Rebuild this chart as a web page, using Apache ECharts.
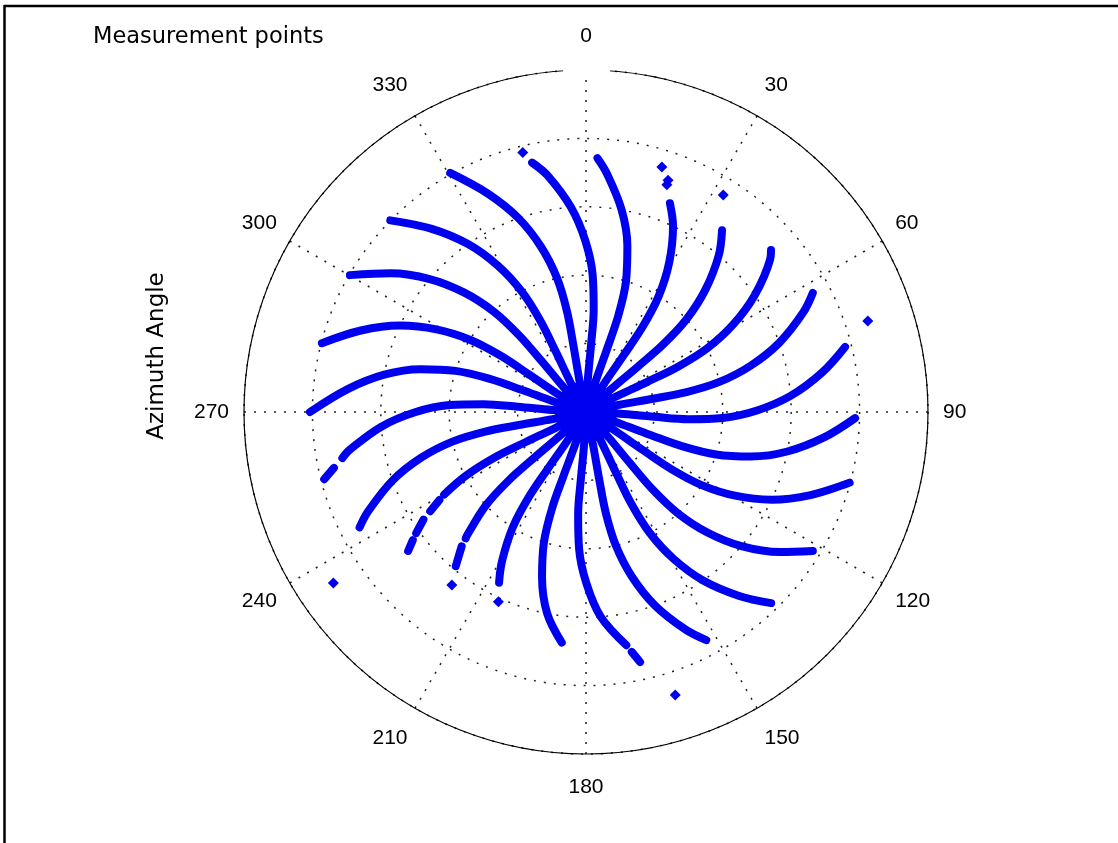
<!DOCTYPE html>
<html>
<head>
<meta charset="utf-8">
<script src="https://cdn.jsdelivr.net/npm/echarts@6/dist/echarts.min.js"></script>
<style>
html,body{margin:0;padding:0;background:#fff;}
#chart{width:1118px;height:843px;}
</style>
</head>
<body>
<div id="chart"></div>
<script>
// ---- data: each arm is a list of segments, each segment a list of [radius, azimuth(deg)] ----
const arm01 = [[[0.03,16.5],[0.1,17.5],[0.2,18.5],[0.3,18.5],[0.4,17],[0.5,14],[0.6,10],[0.7,5],[0.743,2.6]]];
const arm02 = [[[0.03,31.6],[0.1,32.6],[0.2,33.6],[0.3,33.6],[0.4,32.1],[0.5,29.1],[0.6,25.1],[0.658,21.9]]];
const arm03 = [[[0.03,46.8],[0.1,47.8],[0.2,48.8],[0.3,48.8],[0.4,47.3],[0.5,44.3],[0.6,40.3],[0.664,36.8]]];
const arm04 = [[[0.03,61.8],[0.1,62.8],[0.2,63.8],[0.3,63.8],[0.4,62.3],[0.5,59.3],[0.6,55.3],[0.7,50.3],[0.719,48.8]]];
const arm05 = [[[0.03,76.8],[0.1,77.8],[0.2,78.8],[0.3,78.8],[0.4,77.3],[0.5,74.3],[0.6,70.3],[0.7,65.3],[0.749,62.3]]];
const arm06 = [[[0.03,92],[0.1,93],[0.2,94],[0.3,94],[0.4,92.5],[0.5,89.5],[0.6,85.5],[0.7,80.5],[0.781,75.9]]];
const arm07 = [[[0.03,107.6],[0.1,108.6],[0.2,109.6],[0.3,109.6],[0.4,108.1],[0.5,105.1],[0.6,101.1],[0.7,96.1],[0.787,91.3]]];
const arm08 = [[[0.03,121.8],[0.1,122.8],[0.2,123.8],[0.3,123.8],[0.4,122.3],[0.5,119.3],[0.6,115.3],[0.7,110.3],[0.798,105]]];
const arm09 = [[[0.03,137.3],[0.1,138.3],[0.2,139.3],[0.3,139.3],[0.4,137.8],[0.5,134.8],[0.6,130.8],[0.7,125.8],[0.778,121.5]]];
const arm10 = [[[0.03,151.7],[0.1,152.7],[0.2,153.7],[0.3,153.7],[0.4,152.2],[0.5,149.2],[0.6,145.2],[0.7,140.2],[0.778,135.9]]];
const arm11 = [[[0.03,166.9],[0.1,167.9],[0.2,168.9],[0.3,168.9],[0.4,167.4],[0.5,164.4],[0.6,160.4],[0.7,155.4],[0.754,152.2]]];
const arm12 = [[[0.03,182.4],[0.1,183.4],[0.2,184.4],[0.3,184.4],[0.4,182.9],[0.5,179.9],[0.6,175.9],[0.692,170.2]],
               [[0.714,169.2],[0.748,167.8]]];
const arm13 = [[[0.03,197.4],[0.1,198.4],[0.2,199.4],[0.3,199.4],[0.4,197.9],[0.5,194.9],[0.6,190.9],[0.678,186]]];
const arm14 = [[[0.03,211.9],[0.1,212.9],[0.2,213.9],[0.3,213.9],[0.4,212.4],[0.5,209.4],[0.56,207]]];
const arm15 = [[[0.03,226.5],[0.1,227.5],[0.2,228.5],[0.3,228.5],[0.4,227],[0.5,224],[0.51,223.6]],
               [[0.535,222.8],[0.59,220.2]]];
const arm16 = [[[0.03,241.5],[0.1,242.5],[0.2,243.5],[0.3,243.5],[0.4,242],[0.48,239.8]],
               [[0.5,239],[0.54,237.5]],
               [[0.57,236.5],[0.61,234.5]],
               [[0.63,233.5],[0.66,232]]];
const arm17 = [[[0.03,257],[0.1,258],[0.2,259],[0.3,259],[0.4,257.5],[0.5,254.5],[0.6,250.5],[0.7,245.5],[0.743,243]]];
const arm18 = [[[0.03,272.4],[0.1,273.4],[0.2,274.4],[0.3,274.4],[0.4,272.9],[0.5,269.9],[0.6,265.9],[0.7,260.9],[0.725,259.3]],
               [[0.755,257.5],[0.79,255.6]]];
const arm19 = [[[0.03,287],[0.1,288],[0.2,289],[0.3,289],[0.4,287.5],[0.5,284.5],[0.6,280.5],[0.7,275.5],[0.807,270]]];
const arm20 = [[[0.03,301.4],[0.1,302.4],[0.2,303.4],[0.3,303.4],[0.4,301.9],[0.5,298.9],[0.6,294.9],[0.7,289.9],[0.798,284.6]]];
const arm21 = [[[0.03,316.9],[0.1,317.9],[0.2,318.9],[0.3,318.9],[0.4,317.4],[0.5,314.4],[0.6,310.4],[0.7,305.4],[0.798,300.1]]];
const arm22 = [[[0.03,331.4],[0.1,332.4],[0.2,333.4],[0.3,333.4],[0.4,331.9],[0.5,328.9],[0.6,324.9],[0.7,319.9],[0.801,314.4]]];
const arm23 = [[[0.03,347.3],[0.1,348.3],[0.2,349.3],[0.3,349.3],[0.4,347.8],[0.5,344.8],[0.6,340.8],[0.7,335.8],[0.804,330.4]]];
const arm24 = [[[0.03,2.3],[0.1,3.3],[0.2,4.3],[0.3,4.3],[0.4,2.8],[0.5,359.8],[0.6,355.8],[0.7,350.8],[0.746,347.8]]];
// isolated measurement points
const loosePoints = [[0.705,19.6],[0.719,19.5],[0.75,17.2],[0.751,32.3],[0.866,72.1],[0.868,162.5],
                     [0.611,204.8],[0.64,217.8],[0.892,235.9],[0.781,346.3]];
// dense cluster of points at the pole
const centerPoint = [[0.0001,0]];
const angleTicks = [0,30,60,90,120,150,180,210,240,270,300,330];

const arms = [arm01,arm02,arm03,arm04,arm05,arm06,arm07,arm08,arm09,arm10,arm11,arm12,
              arm13,arm14,arm15,arm16,arm17,arm18,arm19,arm20,arm21,arm22,arm23,arm24];
const BLUE = '#0000f0';
const series = [];
arms.forEach(arm => arm.forEach(seg => {
  series.push({
    type: 'line', coordinateSystem: 'polar', data: seg, smooth: 0.35,
    showSymbol: false, symbol: 'none', silent: true, clip: false,
    lineStyle: {color: BLUE, width: 8, cap: 'round', join: 'round'}
  });
}));
series.push({type:'scatter', coordinateSystem:'polar', data: loosePoints, symbol:'diamond',
             symbolSize: 11, clip: false, itemStyle:{color: BLUE, opacity: 1}, silent:true});
series.push({type:'scatter', coordinateSystem:'polar', data: centerPoint, symbol:'circle', z: 5,
             symbolSize: 62, clip: false, itemStyle:{color: BLUE, opacity: 1}, silent:true});

function labelFmt(v) {
  if (angleTicks.indexOf(v) < 0) return '';
  if (v === 0) return '{t|' + v + '}';
  if (v === 180) return '{b|' + v + '}';
  if (v === 30 || v === 330) return '{tt|' + v + '}';
  if (v === 150 || v === 210) return '{bb|' + v + '}';
  return '{n|' + v + '}';
}

const chart = echarts.init(document.getElementById('chart'), null, {renderer:'canvas'});
const lblFont = '"Liberation Sans", Arial, sans-serif';
chart.setOption({
  animation: false,
  backgroundColor: '#ffffff',
  title: {
    text: 'Measurement points', left: 93, top: 26, padding: 0,
    textStyle: {fontSize: 22.5, fontWeight: 'normal', color: '#000', fontFamily: '"DejaVu Sans", sans-serif'}
  },
  polar: {center: [586, 412], radius: 342},
  angleAxis: {
    type: 'value', min: 0, max: 360, interval: 30, startAngle: 90, clockwise: true,
    axisLine: {show: true, lineStyle: {color: '#000', width: 1.2}},
    axisTick: {show: false},
    axisLabel: {show: true, margin: 15, color: '#000', fontSize: 21, fontFamily: lblFont,
      formatter: labelFmt,
      rich: {
        t:  {fontSize: 21, fontFamily: lblFont, color: '#000', padding: [0, 0, 8, 0]},
        b:  {fontSize: 21, fontFamily: lblFont, color: '#000', padding: [8, 0, 0, 0]},
        tt: {fontSize: 21, fontFamily: lblFont, color: '#000', padding: [0, 0, 7, 0]},
        bb: {fontSize: 21, fontFamily: lblFont, color: '#000', padding: [7, 0, 0, 0]},
        n:  {fontSize: 21, fontFamily: lblFont, color: '#000'}
      }},
    splitLine: {show: true, lineStyle: {color: '#222', width: 1.5, type: [2, 8]}}
  },
  radiusAxis: {
    type: 'value', min: 0, max: 1, interval: 0.2,
    axisLine: {show: false}, axisTick: {show: false}, axisLabel: {show: false},
    splitLine: {show: true, lineStyle: {color: '#222', width: 1.5, type: [2, 8]}}
  },
  graphic: [
    {type:'line', z: 100, shape:{x1:4, y1:6, x2:1118, y2:6}, style:{stroke:'#000', lineWidth:2.5}},
    {type:'line', z: 100, shape:{x1:4.5, y1:5, x2:4.5, y2:843}, style:{stroke:'#000', lineWidth:2.5}},
    {type:'rect', z: 100, shape:{x:563, y:67, width:47, height:6}, style:{fill:'#fff'}},
    {type:'text', z: 100, x: 157, y: 356, rotation: Math.PI/2,
     style:{text:'Azimuth Angle', align:'center', verticalAlign:'middle', fill:'#000',
            font:'23px "DejaVu Sans", sans-serif'}}
  ],
  series: series
});
</script>
</body>
</html>
